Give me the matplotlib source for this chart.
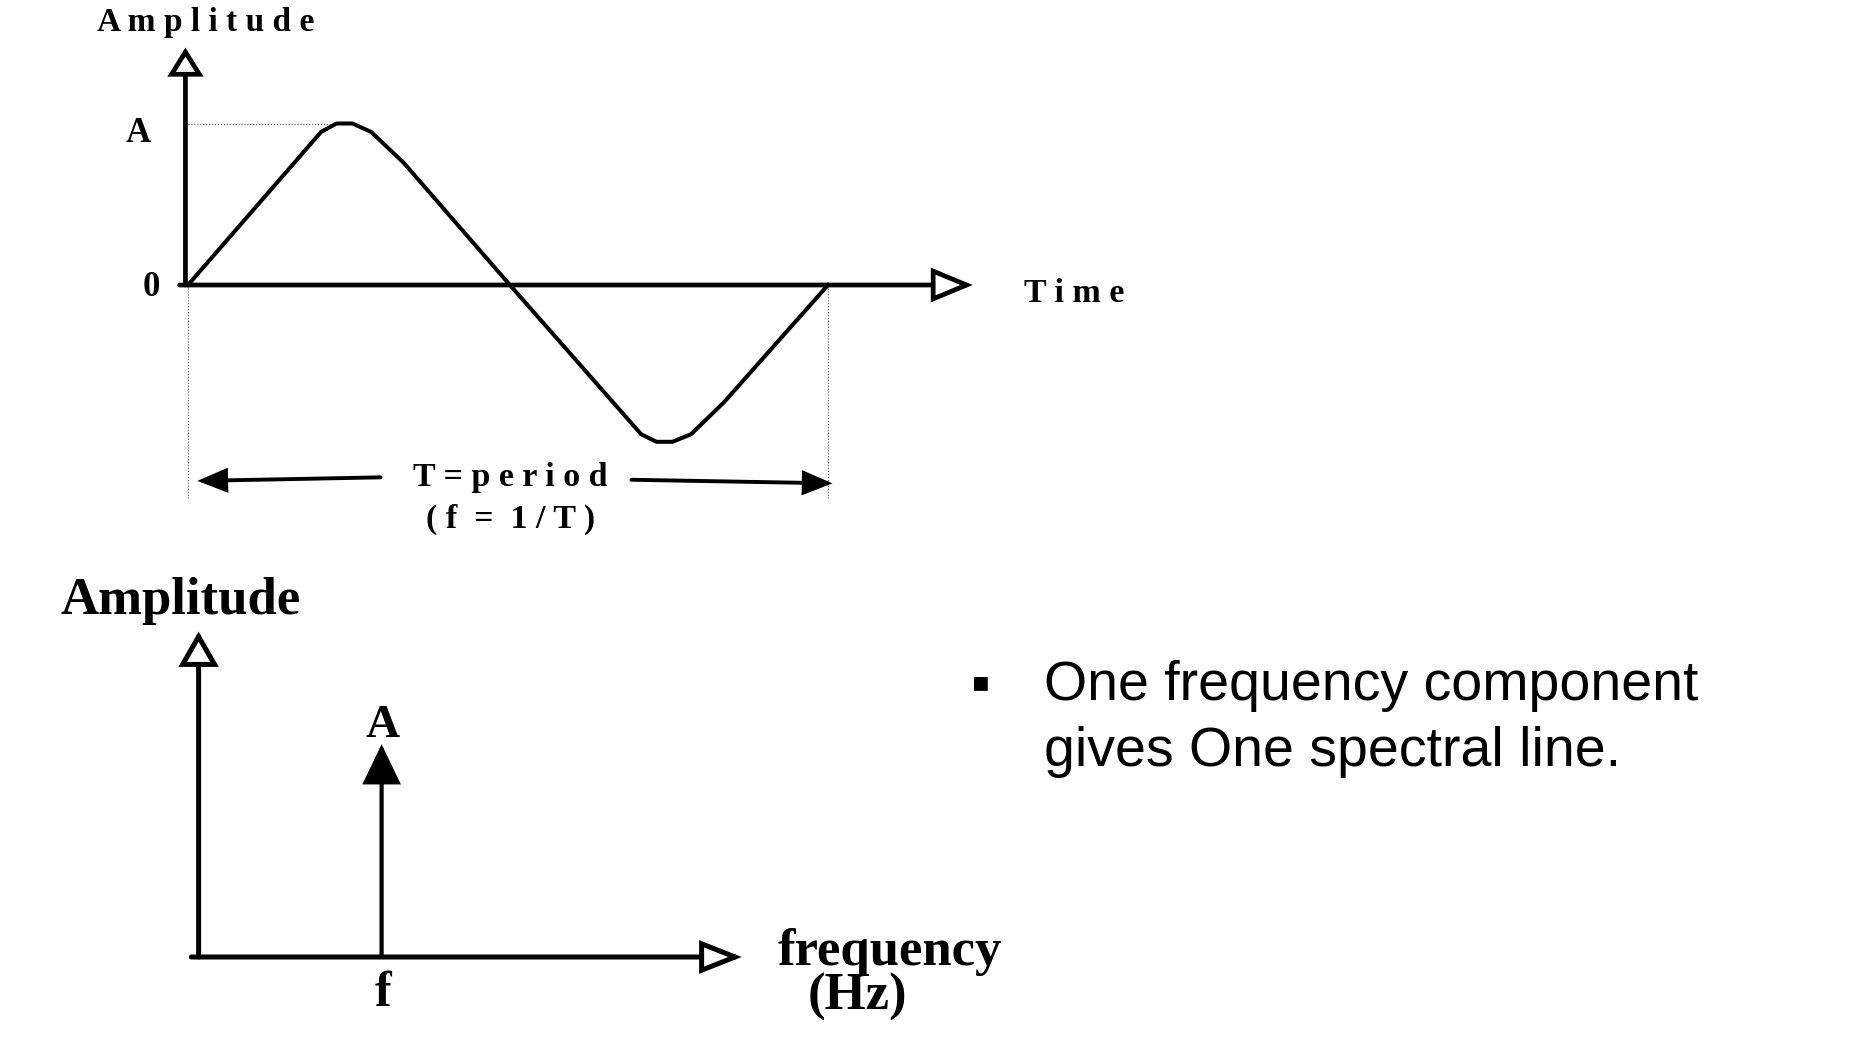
import matplotlib
matplotlib.use("Agg")
import matplotlib.pyplot as plt

# --- Canvas ---
W, H, DPI = 1876, 1050, 100

# --- Data: one period of the waveform (time in periods, amplitude in units of A) ---
wave_t = [0.0, 0.208, 0.232, 0.257, 0.286, 0.337, 0.503, 0.708, 0.732, 0.757, 0.786, 0.837, 1.0]
wave_amp = [0.0, 0.948, 1.0, 1.0, 0.948, 0.757, 0.0, -0.924, -0.971, -0.971, -0.924, -0.728, 0.0]
period = 1.0
peak_amp = 1.0
amp_tick_values = [1.0, 0.0]
amp_tick_labels = ["A", "0"]

# --- Data: spectrum (one line at f) ---
spec_freq = [1.0]
spec_amp = [1.0]
freq_tick_labels = ["f"]

bullet_lines = ["One frequency component", "gives One spectral line."]

SERIF = ["Liberation Serif", "DejaVu Serif"]
SANS = ["Liberation Sans", "DejaVu Sans"]


def place(ax, x0, y0, sx, sy):
    # data origin sits at pixel (x0, y0) from top-left, sx / sy pixels per unit
    b = ax.get_position()
    left, right = b.x0 * W, b.x1 * W
    top, bottom = (1 - b.y1) * H, (1 - b.y0) * H
    ax.set_xlim((left - x0) / sx, (right - x0) / sx)
    ax.set_ylim((y0 - bottom) / sy, (y0 - top) / sy)
    ax.axis("off")


def arrow(ax, start, end, lw, hl, hw, fill):
    ax.annotate("", xy=end, xytext=start,
                arrowprops=dict(arrowstyle=f"-|>,head_length={hl},head_width={hw}",
                                mutation_scale=10, lw=lw, fc=fill, ec="black",
                                shrinkA=0, shrinkB=0, joinstyle="miter"))


fig = plt.figure(figsize=(W / DPI, H / DPI), dpi=DPI)
fig.patch.set_facecolor("white")

# --- Top: time domain ---
ax_t = fig.add_axes([0.0, 0.45, 0.62, 0.55])
place(ax_t, 188, 285, 640, 161.5)

# guide lines
ax_t.plot([0.0, wave_t[2]], [peak_amp, peak_amp], ls=":", lw=0.8, color="#555555")
for tx in [0.0, period]:
    ax_t.plot([tx, tx], [0.0, -1.33], ls=":", lw=0.8, color="#555555")

# axes with open heads
arrow(ax_t, (-0.013, 0.0), (1.226, 0.0), 3.4, 2.4, 1.0, "white")
arrow(ax_t, (-0.004, 0.0), (-0.004, 1.47), 3.4, 1.6, 1.0, "white")

ax_t.plot(wave_t, wave_amp, color="black", lw=2.9, solid_joinstyle="round")

# period arrows
arrow(ax_t, (0.301, -1.191), (0.0147, -1.213), 2.8, 1.7, 0.7, "black")
arrow(ax_t, (0.693, -1.206), (1.007, -1.228), 2.8, 1.7, 0.7, "black")

ax_t.text(0.028, 1.625, "A m p l i t u d e", family=SERIF, weight="bold",
          fontsize=24, ha="center", va="center")
ax_t.text(-0.078, 0.94, amp_tick_labels[0], family=SERIF, weight="bold",
          fontsize=25, ha="center", va="center")
ax_t.text(-0.058, -0.015, amp_tick_labels[1], family=SERIF, weight="bold",
          fontsize=25, ha="center", va="center")
ax_t.text(1.384, -0.05, "T i m e", family=SERIF, weight="bold", fontsize=24.5,
          ha="center", va="center")
ax_t.text(0.504, -1.19, "T = p e r i o d", family=SERIF, weight="bold",
          fontsize=24.5, ha="center", va="center")
ax_t.text(0.504, -1.45, "( f  =  1 / T )", family=SERIF, weight="bold",
          fontsize=24.5, ha="center", va="center")

# --- Bottom: frequency domain ---
ax_f = fig.add_axes([0.0, 0.0, 0.62, 0.45])
place(ax_f, 198.6, 957, 183, 212.8)

arrow(ax_f, (-0.04, 0.0), (2.968, 0.0), 3.6, 2.4, 0.95, "white")
arrow(ax_f, (0.0, 0.0), (0.0, 1.529), 3.6, 2.0, 1.15, "white")
for fx, amp in zip(spec_freq, spec_amp):
    arrow(ax_f, (fx, 0.0), (fx, amp), 3.0, 2.4, 1.15, "black")
    ax_f.text(fx + 0.007, amp + 0.085, "A", family=SERIF, weight="bold",
              fontsize=34, ha="center", va="center")
for fx, lab in zip(spec_freq, freq_tick_labels):
    ax_f.text(fx + 0.007, -0.175, lab, family=SERIF, weight="bold",
              fontsize=36, ha="center", va="center")

ax_f.text(-0.098, 1.675, "Amplitude", family=SERIF, weight="bold",
          fontsize=38, ha="center", va="center")
ax_f.text(3.778, 0.023, "frequency", family=SERIF, weight="bold",
          fontsize=38, ha="center", va="center")
ax_f.text(3.602, -0.186, "(Hz)", family=SERIF, weight="bold",
          fontsize=38, ha="center", va="center")

# --- Bullet text ---
fig.text(980 / W, 1 - 686 / H, "\u25aa", family=SANS, fontsize=40,
         ha="center", va="center")
for i, line in enumerate(bullet_lines):
    fig.text(1044.5 / W, 1 - (685.5 + 67 * i) / H, line, family=SANS,
             fontsize=40, ha="left", va="center")

fig.savefig("out.png", dpi=DPI, facecolor="white")
